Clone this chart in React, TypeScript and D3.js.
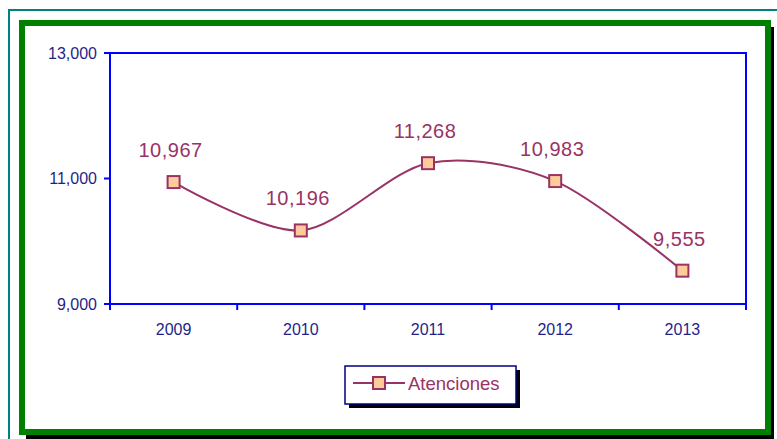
import React from "react";
import * as d3 from "d3";

const years = ["2009", "2010", "2011", "2012", "2013"];
const values = [10967, 10196, 11268, 10983, 9555];
const yTicks = [9000, 11000, 13000];
const seriesName = "Atenciones";

const W = 777;
const H = 439;
const plot = { left: 110, top: 53, right: 746, bottom: 304 };
const FONT = "'Liberation Sans', Arial, sans-serif";
const LINE = "#993366";
const AXIS = "#0000FF";
const LABEL = "#1f1f8a";

export default function App() {
  const x = d3.scaleBand<string>().domain(years).range([plot.left, plot.right]).padding(0);
  const y = d3.scaleLinear().domain([9000, 13000]).range([plot.bottom, plot.top]);
  const cx = (d: string) => (x(d) as number) + x.bandwidth() / 2;
  const pts: [number, number][] = years.map((yr, i) => [cx(yr), y(values[i]) + 1.5]);
  const line = d3.line().curve(d3.curveCardinal.tension(0.1))(pts) as string;
  const fmt = d3.format(",");
  const boundaries = [...years.map((yr) => x(yr) as number), plot.right];

  const leg = { x: 345, y: 366, w: 171, h: 38 };

  return (
    <svg width={W} height={H} style={{ position: "absolute", left: 0, top: 0, background: "#fff" }}>
      <rect x={9} y={10} width={800} height={460} fill="none" stroke="#008080" strokeWidth={2} />
      <rect x={26} y={27} width={748} height={412} fill="#000" />
      <rect x={22} y={23} width={746} height={409} fill="#fff" stroke="#008000" strokeWidth={6} />

      <rect x={plot.left} y={plot.top} width={plot.right - plot.left} height={plot.bottom - plot.top}
        fill="#fff" stroke={AXIS} strokeWidth={2} />

      {yTicks.map((t) => (
        <g key={t}>
          <line x1={plot.left - 6} x2={plot.left} y1={y(t)} y2={y(t)} stroke={AXIS} strokeWidth={2} />
          <text x={97} y={y(t)} dy="0.36em" textAnchor="end" fontFamily={FONT} fontSize={16} fill={LABEL}>
            {fmt(t)}
          </text>
        </g>
      ))}

      {boundaries.map((b, i) => (
        <line key={i} x1={b} x2={b} y1={plot.bottom} y2={plot.bottom + 6} stroke={AXIS} strokeWidth={2} />
      ))}
      {years.map((yr) => (
        <text key={yr} x={cx(yr)} y={335} textAnchor="middle" fontFamily={FONT} fontSize={16} fill={LABEL}>
          {yr}
        </text>
      ))}

      <path d={line} fill="none" stroke={LINE} strokeWidth={2} />
      {pts.map(([px, py], i) => (
        <rect key={i} x={px - 6} y={py - 6} width={12} height={12} fill="#FFCC99" stroke={LINE} strokeWidth={2} />
      ))}
      {pts.map(([px, py], i) => (
        <text key={"l" + i} x={px - 3} y={py - 25} textAnchor="middle" fontFamily={FONT} fontSize={20}
          letterSpacing={0.5} fill={LINE}>
          {fmt(values[i])}
        </text>
      ))}

      <rect x={leg.x + 4} y={leg.y + 4} width={leg.w} height={leg.h} fill="#000" />
      <rect x={leg.x} y={leg.y} width={leg.w} height={leg.h} fill="#fff" stroke="#000080" strokeWidth={1.5} />
      <line x1={353} x2={405} y1={383} y2={383} stroke={LINE} strokeWidth={2} />
      <rect x={373} y={377} width={12} height={12} fill="#FFCC99" stroke={LINE} strokeWidth={2} />
      <text x={408} y={383} dy="0.36em" fontFamily={FONT} fontSize={18.5} fill={LINE}>
        {seriesName}
      </text>
    </svg>
  );
}
